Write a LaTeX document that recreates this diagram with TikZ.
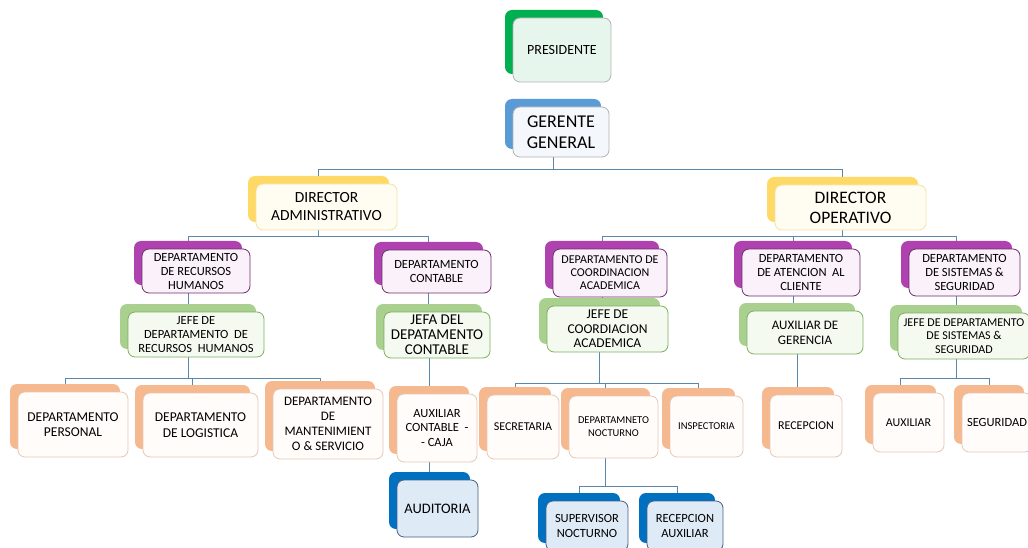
\documentclass[tikz,border=0pt]{standalone}
\usepackage{fontspec}
\setmainfont{Carlito}
\usetikzlibrary{shadows, backgrounds}

\definecolor{linea}{RGB}{90,135,172}
\definecolor{presfondo}{RGB}{0,176,80}
\definecolor{prescara}{RGB}{231,246,236}
\definecolor{gerfondo}{RGB}{91,155,213}
\definecolor{gercara}{RGB}{244,247,252}
\definecolor{dirfondo}{RGB}{255,217,102}
\definecolor{dircara}{RGB}{255,253,242}
\definecolor{dirborde}{RGB}{245,225,165}
\definecolor{depfondo}{RGB}{176,66,176}
\definecolor{depcara}{RGB}{251,241,251}
\definecolor{depborde}{RGB}{105,45,105}
\definecolor{jefefondo}{RGB}{169,208,142}
\definecolor{jefecara}{RGB}{245,250,241}
\definecolor{jefeborde}{RGB}{125,175,95}
\definecolor{unifondo}{RGB}{245,184,143}
\definecolor{unicara}{RGB}{255,252,249}
\definecolor{uniborde}{RGB}{228,200,182}
\definecolor{subfondo}{RGB}{0,112,192}
\definecolor{subcara}{RGB}{222,234,246}
\definecolor{subborde}{RGB}{70,95,130}

\newcommand{\letra}[2]{\fontsize{#1}{#2}\selectfont}

\tikzset{
  cargo/.style={
    rounded corners=7pt, align=center,
    inner xsep=2pt, inner ysep=1pt, line width=0.8pt
  },
  presbox/.style={cargo, draw=black!30, fill=prescara,
    drop shadow={shadow xshift=-8pt, shadow yshift=8pt, opacity=1, fill=presfondo}},
  gerbox/.style={cargo, draw=black!30, fill=gercara,
    drop shadow={shadow xshift=-8pt, shadow yshift=8pt, opacity=1, fill=gerfondo}},
  dirbox/.style={cargo, draw=dirborde, fill=dircara,
    drop shadow={shadow xshift=-8pt, shadow yshift=8pt, opacity=1, fill=dirfondo}},
  depbox/.style={cargo, draw=depborde, fill=depcara,
    drop shadow={shadow xshift=-8pt, shadow yshift=8pt, opacity=1, fill=depfondo}},
  jefebox/.style={cargo, draw=jefeborde, fill=jefecara,
    drop shadow={shadow xshift=-8pt, shadow yshift=8pt, opacity=1, fill=jefefondo}},
  unitbox/.style={cargo, draw=uniborde, fill=unicara,
    drop shadow={shadow xshift=-8pt, shadow yshift=8pt, opacity=1, fill=unifondo}},
  subbox/.style={cargo, draw=subborde, fill=subcara,
    drop shadow={shadow xshift=-8pt, shadow yshift=8pt, opacity=1, fill=subfondo}},
  tam/.style 2 args={minimum width=#1pt, minimum height=#2pt},
  rama/.style={draw=linea, line width=1pt},
}

\begin{document}
\begin{tikzpicture}[x=1pt, y=-1pt]
  \useasboundingbox (0,0) rectangle (1028,548);

  % direccion
  \node[presbox, tam={98}{64}, font=\letra{14}{17}] (pres) at (562,50) {PRESIDENTE};
  \node[gerbox, tam={96}{50}, font=\letra{18}{21}] (ger) at (561,132) {GERENTE\\GENERAL};
  \node[dirbox, tam={141}{46}, font=\letra{15.5}{18}] (diradm) at (326.5,207) {DIRECTOR\\ADMINISTRATIVO};
  \node[dirbox, tam={151}{45}, font=\letra{17.5}{20}] (dirop) at (850.5,207.5) {DIRECTOR\\OPERATIVO};

  % departamentos
  \node[depbox, tam={108}{44}, font=\letra{12.5}{14}] (deprrhh) at (196,271) {DEPARTAMENTO\\DE RECURSOS\\HUMANOS};
  \node[depbox, tam={109}{43}, font=\letra{12.5}{14.5}] (depcont) at (436.5,271.5) {DEPARTAMENTO\\CONTABLE};
  \node[depbox, tam={114}{48}, font=\letra{12}{13}] (depcoord) at (610,273) {DEPARTAMENTO DE\\COORDINACION\\ACADEMICA};
  \node[depbox, tam={118}{47}, font=\letra{12.5}{14}] (depaten) at (801,272.5) {DEPARTAMENTO\\DE ATENCION\ \ AL\\CLIENTE};
  \node[depbox, tam={111}{47}, font=\letra{12.5}{14}] (depsis) at (964.5,272.5) {DEPARTAMENTO\\DE SISTEMAS \&\\SEGURIDAD};

  % jefaturas
  \node[jefebox, tam={136}{45}, font=\letra{12.5}{14}] (jeferrhh) at (196,334.5) {JEFE DE\\DEPARTAMENTO\ \ DE\\RECURSOS\ \ HUMANOS};
  \node[jefebox, tam={106}{46}, font=\letra{15}{15}] (jefecont) at (437,335) {JEFA DEL\\DEPATAMENTO\\CONTABLE};
  \node[jefebox, tam={121}{46}, font=\letra{13.5}{14.5}] (jefecoord) at (607.5,329) {JEFE DE\\COORDIACION\\ACADEMICA};
  \node[jefebox, tam={116}{43}, font=\letra{13}{15}] (auxger) at (805,332.5) {AUXILIAR DE\\GERENCIA};
  \node[jefebox, tam={132}{46}, font=\letra{12}{13.8}] (jefesis) at (964,336) {JEFE DE DEPARTAMENTO\\DE SISTEMAS \&\\SEGURIDAD};

  % unidades
  \node[unitbox, tam={110}{65}, font=\letra{13.5}{15.5}] (deppers) at (73,424.5) {DEPARTAMENTO\\PERSONAL};
  \node[unitbox, tam={115}{64}, font=\letra{13.5}{15.5}] (deplog) at (200.5,425) {DEPARTAMENTO\\DE LOGISTICA};
  \node[unitbox, tam={110}{70}, font=\letra{13}{15}] (depmant) at (328,424) {DEPARTAMENTO\\DE\\MANTENIMIENT\\O \& SERVICIO};
  \node[unitbox, tam={80}{68}, font=\letra{12.5}{14.5}] (auxcont) at (437,428) {AUXILIAR\\CONTABLE\ \ -\\- CAJA};
  \node[unitbox, tam={72}{64}, font=\letra{12}{14}] (secre) at (523,427) {SECRETARIA};
  \node[unitbox, tam={89}{62}, font=\letra{10.5}{13}] (depnoct) at (613.5,427) {DEPARTAMNETO\\NOCTURNO};
  \node[unitbox, tam={73}{61}, font=\letra{10.5}{13}] (inspec) at (706.5,426.5) {INSPECTORIA};
  \node[unitbox, tam={72}{62}, font=\letra{12}{14}] (recep) at (806,426) {RECEPCION};
  \node[unitbox, tam={71}{59}, font=\letra{12}{14}] (auxil) at (908.5,422.5) {AUXILIAR};
  \node[unitbox, tam={70}{59}, font=\letra{12.5}{14}] (segur) at (997,422.5) {SEGURIDAD};

  % ultimo nivel
  \node[subbox, tam={81}{57}, font=\letra{14.5}{16}] (audit) at (437.5,508.5) {AUDITORIA};
  \node[subbox, tam={82}{50}, font=\letra{12.5}{15.5}] (superv) at (587,526) {SUPERVISOR\\NOCTURNO};
  \node[subbox, tam={76}{50}, font=\letra{12.5}{15.5}] (recaux) at (685,526) {RECEPCION\\AUXILIAR};

  % conectores
  \begin{pgfonlayer}{background}
    \foreach \hijo in {diradm,dirop}
      \draw[rama] ([xshift=-8pt]ger.center) -- ++(0,38) -| ([xshift=-8pt]\hijo.center);
    \foreach \hijo in {deprrhh,depcont}
      \draw[rama] ([xshift=-8pt]diradm.center) -- ++(0,30) -| ([xshift=-8pt]\hijo.center);
    \foreach \hijo in {depcoord,depaten,depsis}
      \draw[rama] ([xshift=-8pt]dirop.center) -- ++(0,29.5) -| ([xshift=-8pt]\hijo.center);
    \foreach \hijo in {deppers,deplog,depmant}
      \draw[rama] ([xshift=-8pt]jeferrhh.center) -- ++(0,43.5) -| ([xshift=-8pt]\hijo.center);
    \foreach \hijo in {secre,depnoct,inspec}
      \draw[rama] ([xshift=-8pt]jefecoord.center) -- ++(0,54) -| ([xshift=-8pt]\hijo.center);
    \foreach \hijo in {superv,recaux}
      \draw[rama] ([xshift=-8pt]depnoct.center) -- ++(0,59) -| ([xshift=-8pt]\hijo.center);
    \foreach \hijo in {auxil,segur}
      \draw[rama] ([xshift=-8pt]jefesis.center) -- ++(0,42) -| ([xshift=-8pt]\hijo.center);
    \draw[rama] ([xshift=-8pt]deprrhh.center) -- ([xshift=-8pt]deprrhh.center |- jeferrhh.center);
    \draw[rama] ([xshift=-8pt]depcont.center) -- ([xshift=-8pt]depcont.center |- jefecont.center);
    \draw[rama] ([xshift=-8pt]depcoord.center) -- ([xshift=-8pt]depcoord.center |- jefecoord.center);
    \draw[rama] ([xshift=-8pt]depaten.center) -- ([xshift=-8pt]depaten.center |- auxger.center);
    \draw[rama] ([xshift=-8pt]depsis.center) -- ([xshift=-8pt]depsis.center |- jefesis.center);
    \draw[rama] ([xshift=-8pt]jefecont.center) -- ([xshift=-8pt]jefecont.center |- auxcont.center);
    \draw[rama] ([xshift=-8pt]auxcont.center) -- ([xshift=-8pt]auxcont.center |- audit.center);
    \draw[rama] ([xshift=-8pt]auxger.center) -- ([xshift=-8pt]auxger.center |- recep.center);
  \end{pgfonlayer}
\end{tikzpicture}
\end{document}
